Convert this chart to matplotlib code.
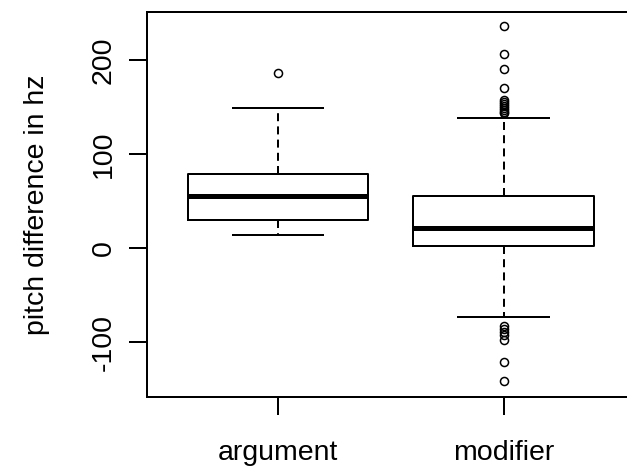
import matplotlib
matplotlib.use("Agg")
import matplotlib.pyplot as plt

categories = ["argument", "modifier"]
whisker_low = [14, -73]
q1 = [30, 2.4]
median = [56, 22]
q3 = [78.6, 56]
whisker_high = [149, 138.5]
outliers = [
    [186],
    [236, 206, 190, 170, 157, 155, 153, 151, 149, 147, 145, 144,
     -83, -86, -89, -92, -97, -121, -141],
]
y_ticks = [-100, 0, 100, 200]
y_label = "pitch difference in hz"

plt.rcParams["font.family"] = ["Liberation Sans", "DejaVu Sans"]
fig = plt.figure(figsize=(6.27, 4.76), dpi=100)
ax = fig.add_axes([147 / 627, 79 / 476, 487.5 / 627, 385 / 476])

stats = []
for i, c in enumerate(categories):
    stats.append(dict(label=c, whislo=whisker_low[i], q1=q1[i], med=median[i],
                      q3=q3[i], whishi=whisker_high[i], fliers=outliers[i]))

lw = 1.44
ax.bxp(stats, positions=[1, 2], widths=0.8, showfliers=True,
       boxprops=dict(color="black", linewidth=lw),
       medianprops=dict(color="black", linewidth=3.6, solid_capstyle="butt"),
       whiskerprops=dict(color="black", linewidth=lw, linestyle=(0, (4, 2.6))),
       capprops=dict(color="black", linewidth=lw),
       capwidths=0.4,
       flierprops=dict(marker="o", markersize=5.8, markerfacecolor="none",
                       markeredgecolor="black", markeredgewidth=1.1))

ax.set_xlim(0.42, 2.58)
ax.set_ylim(-158, 251)
ax.set_yticks(y_ticks)
ax.set_yticklabels([str(v) for v in y_ticks], rotation=90, va="center")
ax.set_xticks([1, 2])
ax.set_xticklabels(categories)
for s in ax.spines.values():
    s.set_linewidth(lw)
ax.tick_params(axis="both", length=13, width=lw, labelsize=20.5, direction="out")
ax.tick_params(axis="y", pad=9)
ax.tick_params(axis="x", pad=18)
ax.set_ylabel(y_label, fontsize=20.5)
ax.yaxis.set_label_coords(-0.2, 0.5)

fig.savefig("out.png", dpi=100)
